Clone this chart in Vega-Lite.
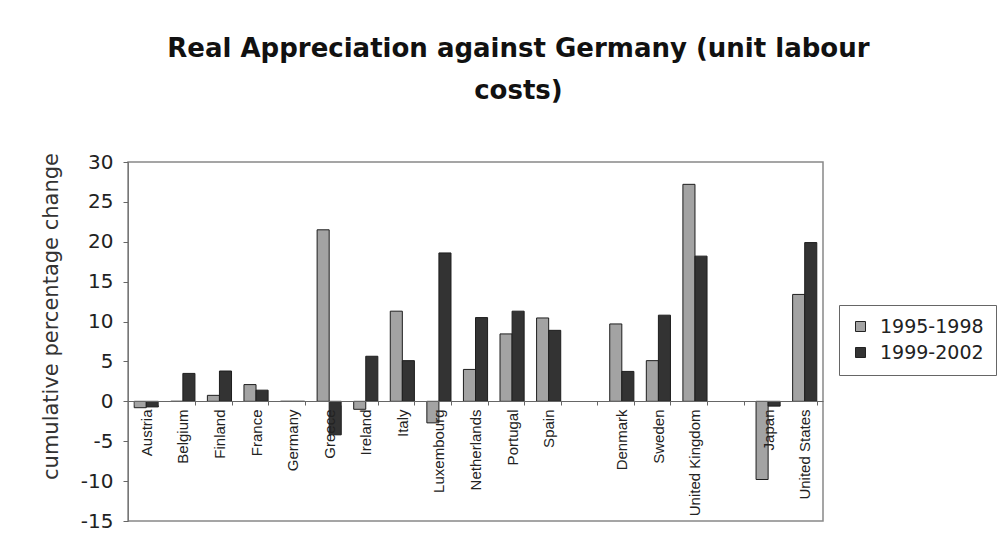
{
  "$schema": "https://vega.github.io/schema/vega-lite/v6.json",
  "width": 695,
  "height": 359,
  "padding": {"left": 40, "top": 36, "right": 10, "bottom": 10},
  "background": "#ffffff",
  "title": {
    "text": ["Real Appreciation against Germany (unit labour", "costs)"],
    "font": "DejaVu Sans",
    "fontSize": 26,
    "fontWeight": "bold",
    "color": "#111111",
    "lineHeight": 42,
    "anchor": "middle",
    "frame": "bounds",
    "offset": 48
  },
  "data": {
    "values": [
      {"country": "Austria", "period": "1995-1998", "change": -0.8},
      {"country": "Austria", "period": "1999-2002", "change": -0.7},
      {"country": "Belgium", "period": "1995-1998", "change": 0.0},
      {"country": "Belgium", "period": "1999-2002", "change": 3.5},
      {"country": "Finland", "period": "1995-1998", "change": 0.75},
      {"country": "Finland", "period": "1999-2002", "change": 3.8},
      {"country": "France", "period": "1995-1998", "change": 2.1},
      {"country": "France", "period": "1999-2002", "change": 1.4},
      {"country": "Germany", "period": "1995-1998", "change": 0.0},
      {"country": "Germany", "period": "1999-2002", "change": 0.0},
      {"country": "Greece", "period": "1995-1998", "change": 21.5},
      {"country": "Greece", "period": "1999-2002", "change": -4.2},
      {"country": "Ireland", "period": "1995-1998", "change": -1.0},
      {"country": "Ireland", "period": "1999-2002", "change": 5.65},
      {"country": "Italy", "period": "1995-1998", "change": 11.3},
      {"country": "Italy", "period": "1999-2002", "change": 5.1},
      {"country": "Luxembourg", "period": "1995-1998", "change": -2.7},
      {"country": "Luxembourg", "period": "1999-2002", "change": 18.6},
      {"country": "Netherlands", "period": "1995-1998", "change": 4.0},
      {"country": "Netherlands", "period": "1999-2002", "change": 10.5},
      {"country": "Portugal", "period": "1995-1998", "change": 8.45},
      {"country": "Portugal", "period": "1999-2002", "change": 11.3},
      {"country": "Spain", "period": "1995-1998", "change": 10.45},
      {"country": "Spain", "period": "1999-2002", "change": 8.9},
      {"country": "Denmark", "period": "1995-1998", "change": 9.7},
      {"country": "Denmark", "period": "1999-2002", "change": 3.75},
      {"country": "Sweden", "period": "1995-1998", "change": 5.1},
      {"country": "Sweden", "period": "1999-2002", "change": 10.8},
      {"country": "United Kingdom", "period": "1995-1998", "change": 27.2},
      {"country": "United Kingdom", "period": "1999-2002", "change": 18.2},
      {"country": "Japan", "period": "1995-1998", "change": -9.8},
      {"country": "Japan", "period": "1999-2002", "change": -0.6},
      {"country": "United States", "period": "1995-1998", "change": 13.4},
      {"country": "United States", "period": "1999-2002", "change": 19.9}
    ]
  },
  "mark": {"type": "bar", "stroke": "#1e1e1e", "strokeWidth": 1},
  "encoding": {
    "x": {
      "field": "country",
      "type": "nominal",
      "sort": null,
      "scale": {
        "domain": ["Austria", "Belgium", "Finland", "France", "Germany", "Greece", "Ireland", "Italy", "Luxembourg", "Netherlands", "Portugal", "Spain", "gap-a", "Denmark", "Sweden", "United Kingdom", "gap-b", "Japan", "United States"],
        "paddingInner": 0.34,
        "paddingOuter": 0.17
      },
      "axis": {
        "title": null,
        "orient": "bottom",
        "offset": -120,
        "zindex": 1,
        "labelAngle": -90,
        "labelFont": "Liberation Sans",
        "labelFontSize": 15,
        "labelColor": "#222222",
        "labelPadding": 4,
        "labelExpr": "datum.label == 'gap-a' || datum.label == 'gap-b' ? '' : datum.label",
        "tickBand": "extent",
        "tickSize": 4,
        "tickColor": "#666666",
        "domainColor": "#666666"
      }
    },
    "xOffset": {"field": "period", "type": "nominal"},
    "y": {
      "field": "change",
      "type": "quantitative",
      "scale": {"domain": [-15, 30], "nice": false},
      "axis": {
        "title": "cumulative percentage change",
        "titleFont": "DejaVu Sans",
        "titleFontSize": 21,
        "titleFontWeight": "normal",
        "titleColor": "#333333",
        "titlePadding": 19,
        "titleY": 154,
        "values": [-15, -10, -5, 0, 5, 10, 15, 20, 25, 30],
        "labelExpr": "replace(datum.label, '\u2212', '-')",
        "labelFont": "DejaVu Sans",
        "labelFontSize": 20,
        "labelColor": "#222222",
        "labelPadding": 10,
        "tickSize": 5,
        "tickColor": "#666666",
        "domainColor": "#777777",
        "grid": false
      }
    },
    "color": {
      "field": "period",
      "type": "nominal",
      "scale": {"domain": ["1995-1998", "1999-2002"], "range": ["#a3a3a3", "#333333"]},
      "legend": {
        "title": null,
        "orient": "none",
        "legendX": 711,
        "legendY": 143,
        "strokeColor": "#666666",
        "padding": 12,
        "symbolType": "square",
        "symbolSize": 100,
        "symbolStrokeColor": "#222222",
        "symbolStrokeWidth": 1,
        "labelFont": "DejaVu Sans",
        "labelFontSize": 19,
        "labelColor": "#222222",
        "rowPadding": 6,
        "labelOffset": 10
      }
    }
  },
  "config": {
    "view": {"stroke": "#888888", "strokeWidth": 1.5}
  }
}
